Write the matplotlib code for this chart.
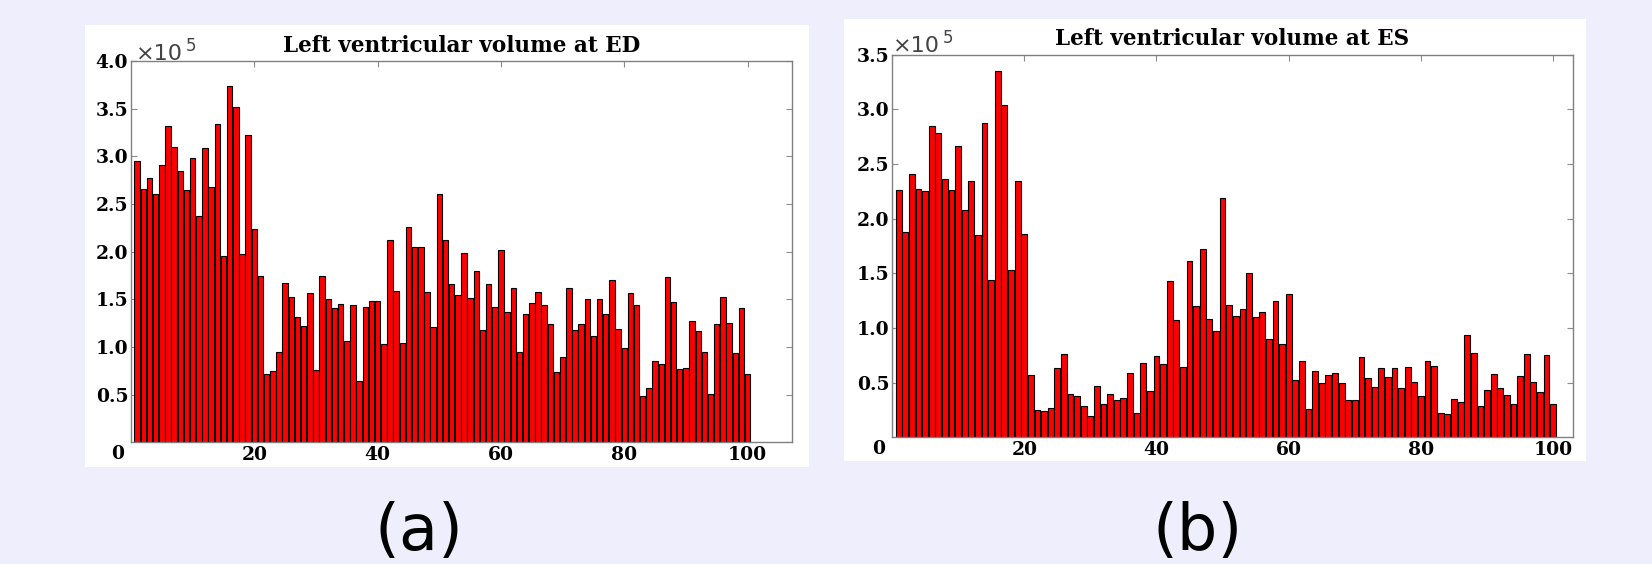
import matplotlib
matplotlib.use("Agg")
import matplotlib.pyplot as plt
from matplotlib.patches import Rectangle

W, H = 1652, 564
BG = "#EEEEFC"

# ---------------- data (volumes in units of 1e5) ----------------
subjects = list(range(1, 101))

ed_volume = [2.95, 2.66, 2.77, 2.61, 2.91, 3.32, 3.10, 2.85, 2.65, 2.98,
             2.37, 3.09, 2.68, 3.34, 1.95, 3.74, 3.52, 1.98, 3.22, 2.24,
             1.74, 0.72, 0.75, 0.95, 1.67, 1.52, 1.31, 1.22, 1.57, 0.76,
             1.74, 1.50, 1.41, 1.45, 1.06, 1.44, 0.645, 1.42, 1.48, 1.48,
             1.03, 2.12, 1.59, 1.04, 2.26, 2.05, 2.05, 1.58, 1.21, 2.60,
             2.12, 1.66, 1.55, 1.99, 1.51, 1.80, 1.18, 1.66, 1.42, 2.02,
             1.37, 1.62, 0.95, 1.35, 1.46, 1.58, 1.44, 1.24, 0.74, 0.89,
             1.62, 1.18, 1.24, 1.50, 1.12, 1.50, 1.35, 1.70, 1.19, 0.99,
             1.57, 1.44, 0.49, 0.57, 0.855, 0.82, 1.73, 1.47, 0.77, 0.78,
             1.27, 1.17, 0.95, 0.51, 1.24, 1.52, 1.25, 0.94, 1.41, 0.715]

es_volume = [2.26, 1.88, 2.41, 2.27, 2.25, 2.85, 2.78, 2.36, 2.26, 2.66,
             2.08, 2.34, 1.85, 2.87, 1.44, 3.35, 3.04, 1.53, 2.34, 1.86,
             0.57, 0.25, 0.245, 0.27, 0.63, 0.765, 0.40, 0.38, 0.29, 0.195,
             0.47, 0.30, 0.40, 0.34, 0.355, 0.59, 0.225, 0.68, 0.42, 0.74,
             0.67, 1.43, 1.07, 0.64, 1.61, 1.20, 1.72, 1.08, 0.975, 2.19,
             1.21, 1.11, 1.17, 1.50, 1.10, 1.15, 0.90, 1.25, 0.85, 1.31,
             0.52, 0.70, 0.26, 0.61, 0.50, 0.57, 0.59, 0.50, 0.34, 0.34,
             0.735, 0.54, 0.46, 0.63, 0.55, 0.63, 0.45, 0.64, 0.51, 0.38,
             0.70, 0.65, 0.225, 0.215, 0.35, 0.32, 0.935, 0.77, 0.29, 0.43,
             0.58, 0.45, 0.39, 0.30, 0.56, 0.76, 0.51, 0.41, 0.75, 0.30]

x_ticks = [20, 40, 60, 80, 100]
ed_yticks = [0.5, 1.0, 1.5, 2.0, 2.5, 3.0, 3.5, 4.0]
es_yticks = [0.5, 1.0, 1.5, 2.0, 2.5, 3.0, 3.5]
titles = ["Left ventricular volume at ED", "Left ventricular volume at ES"]
panel_labels = ["(a)", "(b)"]
exponent = "5"

# ---------------- layout helpers (pixel coords, origin top-left) ----------------
def frac_rect(x0, y0, x1, y1):
    return [x0 / W, 1 - y1 / H, (x1 - x0) / W, (y1 - y0) / H]

def fx(x):
    return x / W

def fy(y):
    return 1 - y / H

fig = plt.figure(figsize=(W / 100, H / 100), dpi=100, facecolor=BG)

# white panel backgrounds
for (x0, y0, x1, y1) in [(85, 25, 809, 467), (844, 19, 1586, 461)]:
    r = frac_rect(x0, y0, x1, y1)
    fig.add_artist(Rectangle((r[0], r[1]), r[2], r[3], transform=fig.transFigure,
                             facecolor="white", edgecolor="none", zorder=0))

tick_font = dict(family="DejaVu Serif", weight="bold", size=13.5)
title_font = dict(family="DejaVu Serif", weight="bold", size=15.5)

panels = [
    dict(rect=(131, 61, 792, 442.3), data=ed_volume, yticks=ed_yticks, ymax=4.0,
         xmax=107.2, title=titles[0], label=panel_labels[0], label_x=419,
         exp_x=136, exp_y=60),
    dict(rect=(892, 54.5, 1573, 437.3), data=es_volume, yticks=es_yticks, ymax=3.5,
         xmax=103.0, title=titles[1], label=panel_labels[1], label_x=1198,
         exp_x=893, exp_y=52),
]

for p in panels:
    ax = fig.add_axes(frac_rect(*p["rect"]))
    ax.set_facecolor("white")
    ax.bar(subjects, p["data"], width=0.88, color="#FF0000",
           edgecolor="black", linewidth=0.8, zorder=2)
    ax.set_xlim(0, p["xmax"])
    ax.set_ylim(0, p["ymax"])
    ax.set_axisbelow(True)
    ax.set_xticks(x_ticks)
    ax.set_xticklabels([str(t) for t in x_ticks], fontdict=tick_font)
    ax.set_yticks(p["yticks"])
    ax.set_yticklabels(["%.1f" % t for t in p["yticks"]], fontdict=tick_font)
    ax.tick_params(direction="in", length=4, width=0.8, color="0.55",
                   top=True, right=True, labeltop=False, labelright=False)
    ax.tick_params(axis="x", pad=3)
    ax.tick_params(axis="y", pad=2)
    for s in ax.spines.values():
        s.set_color("0.5")
        s.set_linewidth(1.0)
    ax.set_title(p["title"], pad=6.5, **title_font)
    # corner zero label
    ax.annotate("0", xy=(0, 0), xycoords="axes fraction", xytext=(-13, -12),
                textcoords="offset pixels", ha="center", va="center", **tick_font)
    # exponent multiplier
    fig.text(fx(p["exp_x"]), fy(p["exp_y"]), "\u00d710", family="DejaVu Sans",
             size=16, color="#444444", ha="left", va="baseline")
    fig.text(fx(p["exp_x"] + 50), fy(p["exp_y"] - 9), exponent, family="DejaVu Sans",
             size=12, color="#444444", ha="left", va="baseline")
    # panel label
    fig.text(fx(p["label_x"]), fy(532), p["label"], family="DejaVu Sans",
             size=46, color="black", ha="center", va="center")

fig.savefig("out.png", dpi=100, facecolor=BG)
